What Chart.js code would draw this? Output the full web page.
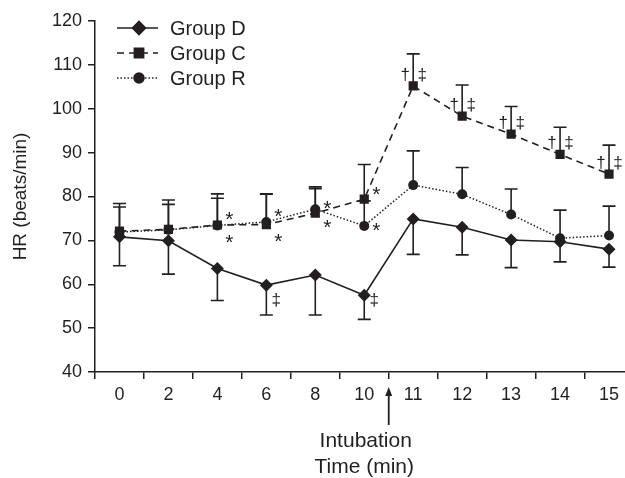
<!DOCTYPE html>
<html><head><meta charset="utf-8">
<script src="https://cdn.jsdelivr.net/npm/chart.js@4.4.0/dist/chart.umd.min.js"></script>
<style>
html,body{margin:0;padding:0;background:#fff;overflow:hidden;width:625px;height:478px;}
#wrap{position:relative;width:640px;height:478px;}
</style></head><body>
<div id="wrap"><canvas id="c" width="640" height="478"></canvas></div>
<script>
// ---- data ----
const categories = ['0','2','4','6','8','10','11','12','13','14','15'];
const groupD     = [70.8, 69.9, 63.6, 59.8, 62.1, 57.5, 74.9, 73.0, 70.1, 69.7, 68.0];
const groupDLow  = [64.2, 62.3, 56.3, 53.0, 53.0, 52.0, 66.8, 66.7, 63.8, 65.1, 63.9];
const groupC     = [72.1, 72.5, 73.5, 73.6, 76.2, 79.4, 105.2, 98.3, 94.2, 89.6, 85.1];
const groupCHigh = [78.4, 79.2, 80.6, 80.5, 81.8, 87.3, 112.5, 105.4, 100.5, 95.8, 91.7];
const groupR     = [71.9, 72.4, 73.4, 74.2, 77.1, 73.3, 82.6, 80.5, 75.9, 70.5, 71.1];
const groupRHigh = [77.6, 78.2, 79.6, 80.6, 82.2, 79.0, 90.4, 86.6, 81.7, 76.9, 77.8];
const yTicks = [40, 50, 60, 70, 80, 90, 100, 110, 120];
const seriesNames = ['Group D', 'Group C', 'Group R'];
// significance marks: [category index, symbol, series]
const starMarks   = [[2,'*','C'],[2,'*','R'],[3,'*','C'],[3,'*','R'],[4,'*','C'],[4,'*','R'],[5,'*','C'],[5,'*','R']];
const daggerMarks = [[6,'†'],[6,'‡'],[7,'†'],[7,'‡'],[8,'†'],[8,'‡'],[9,'†'],[9,'‡'],[10,'†'],[10,'‡']];
const dMarks      = [[3,'‡'],[5,'‡']];

// ---- styles ----
const INK = '#231f20';
const FONT = "'Liberation Sans', Arial, sans-serif";
// star offsets (px) per index: [upper dy from C, lower dy from R]
const starOffsets = {2:[-10,13], 3:[-12,15], 4:[-9,14], 5:[-9,0]};
const dOffsets = {3:15, 5:5};

const errorBars = {
  id: 'errorBars',
  beforeDatasetsDraw(chart) {
    const ctx = chart.ctx, x = chart.scales.x, y = chart.scales.y;
    ctx.save();
    ctx.strokeStyle = INK; ctx.lineWidth = 1.6; ctx.setLineDash([]);
    const bar = (i, v0, v1) => {
      const px = x.getPixelForValue(i), p0 = y.getPixelForValue(v0), p1 = y.getPixelForValue(v1);
      ctx.beginPath(); ctx.moveTo(px, p0); ctx.lineTo(px, p1);
      ctx.moveTo(px - 6.5, p1); ctx.lineTo(px + 6.5, p1); ctx.stroke();
    };
    categories.forEach((c, i) => {
      bar(i, groupD[i], groupDLow[i]);
      bar(i, groupC[i], groupCHigh[i]);
      bar(i, groupR[i], groupRHigh[i]);
    });
    ctx.restore();
  },
  afterDraw(chart) {
    const ctx = chart.ctx, x = chart.scales.x, y = chart.scales.y;
    const ds = chart.data.datasets;
    ctx.save();
    ctx.fillStyle = INK; ctx.textAlign = 'center'; ctx.textBaseline = 'middle';
    // stars
    ctx.font = '21px ' + FONT;
    starMarks.forEach(([i, s, ser]) => {
      const px = x.getPixelForValue(i) + 12;
      const off = starOffsets[i];
      const py = ser === 'C' ? y.getPixelForValue(groupC[i]) + off[0] : y.getPixelForValue(groupR[i]) + off[1];
      ctx.fillText(s, px, py + 5);
    });
    // daggers for group C
    ctx.font = '17px ' + FONT;
    daggerMarks.forEach(([i, s]) => {
      const px = x.getPixelForValue(i) + (s === '†' ? -8 : 9);
      const py = y.getPixelForValue(groupC[i]) - 11;
      ctx.fillText(s, px, py);
    });
    dMarks.forEach(([i, s]) => {
      const px = x.getPixelForValue(i) + 10;
      const py = y.getPixelForValue(groupD[i]) + dOffsets[i];
      ctx.fillText(s, px, py);
    });
    // intubation arrow
    const ax = (x.getPixelForValue(5) + x.getPixelForValue(6)) / 2;
    const top = chart.chartArea.bottom + 16;
    ctx.strokeStyle = INK; ctx.lineWidth = 1.8;
    ctx.beginPath(); ctx.moveTo(ax, top + 5); ctx.lineTo(ax, top + 37); ctx.stroke();
    ctx.beginPath(); ctx.moveTo(ax, top - 1); ctx.lineTo(ax - 3.5, top + 8); ctx.lineTo(ax + 3.5, top + 8); ctx.closePath(); ctx.fill();
    ctx.font = '21px ' + FONT;
    ctx.fillText('Intubation', ax - 23, top + 53);
    // legend
    const lx0 = 117, lx1 = 158, mx = 139, tx = 170, ly = [28, 53, 78];
    ds.forEach((d, k) => {
      ctx.strokeStyle = INK; ctx.lineWidth = d.borderWidth; ctx.setLineDash(d.borderDash || []);
      ctx.beginPath(); ctx.moveTo(lx0, ly[k]); ctx.lineTo(lx1, ly[k]); ctx.stroke();
      ctx.setLineDash([]);
      Chart.helpers.drawPoint(ctx, {pointStyle: d.pointStyle, radius: d.pointRadius, rotation: 0, borderWidth: 1}, mx, ly[k]);
      ctx.fillStyle = INK; ctx.fill();
      ctx.textAlign = 'left'; ctx.font = '20px ' + FONT;
      ctx.fillText(d.label, tx, ly[k] + 1);
    });
    ctx.restore();
  }
};

new Chart(document.getElementById('c'), {
  type: 'line',
  data: {
    labels: categories,
    datasets: [
      {label: seriesNames[0], data: groupD, borderColor: INK, backgroundColor: INK, borderWidth: 1.6,
       pointStyle: 'rectRot', pointRadius: 6.5, pointBorderWidth: 0, tension: 0},
      {label: seriesNames[1], data: groupC, borderColor: INK, backgroundColor: INK, borderWidth: 1.6, borderDash: [7, 5],
       pointStyle: 'rect', pointRadius: 6.5, pointBorderWidth: 0, tension: 0},
      {label: seriesNames[2], data: groupR, borderColor: INK, backgroundColor: INK, borderWidth: 1.5, borderDash: [1.5, 2],
       pointStyle: 'circle', pointRadius: 5, pointBorderWidth: 0, tension: 0}
    ]
  },
  options: {
    responsive: false, animation: false, devicePixelRatio: 1,
    layout: {padding: {top: 21, right: 6, bottom: 0, left: 0}},
    plugins: {legend: {display: false}, tooltip: {enabled: false}},
    scales: {
      x: {
        offset: true,
        grid: {offset: true, drawOnChartArea: false, drawTicks: true, tickLength: 7, color: INK, lineWidth: 1.5},
        border: {display: true, color: INK, width: 1.5},
        ticks: {color: INK, font: {family: FONT, size: 18}, padding: 5, maxRotation: 0, autoSkip: false},
        title: {display: true, text: 'Time (min)', color: INK, font: {family: FONT, size: 21, lineHeight: 1}, padding: {top: 0, bottom: 0}},
        afterFit(s) { s.height = 106; }
      },
      y: {
        min: 40, max: 120,
        afterBuildTicks(s) { s.ticks = yTicks.map(v => ({value: v})); },
        grid: {drawOnChartArea: false, drawTicks: true, tickLength: 7, color: INK, lineWidth: 1.5},
        border: {display: true, color: INK, width: 1.5},
        ticks: {color: INK, font: {family: FONT, size: 18}, padding: 6},
        title: {display: true, text: 'HR (beats/min)', color: INK, font: {family: FONT, size: 19, lineHeight: 1.2}, padding: {top: 9, bottom: 0}},
        afterFit(s) { s.width = 95; }
      }
    }
  },
  plugins: [errorBars]
});
</script>
</body></html>
